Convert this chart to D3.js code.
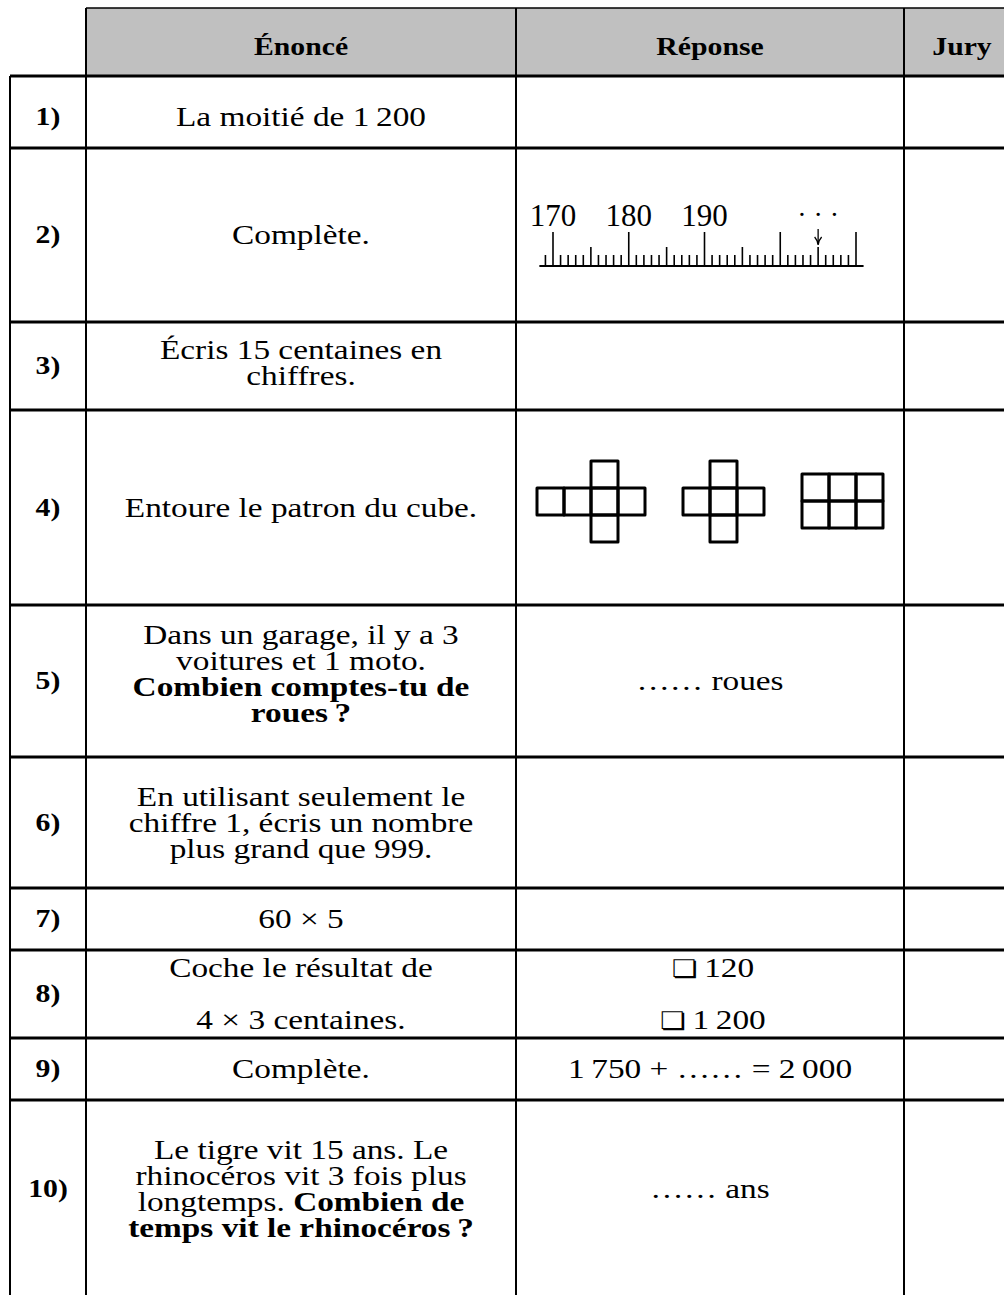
<!DOCTYPE html>
<html>
<head>
<meta charset="utf-8">
<script src="https://cdn.jsdelivr.net/npm/d3@7"></script>
<style>
  body { margin: 0; background: #fff; }
  svg { display: block; }
</style>
</head>
<body>
<div id="chart"></div>
<script>
// table content
var headers = ["Énoncé", "Réponse", "Jury"];
var rowLabels = ["1)", "2)", "3)", "4)", "5)", "6)", "7)", "8)", "9)", "10)"];

// one entry per row, one string per line, **...** = bold
var questions = [
  ["La moitié de 1\u2009200"],
  ["Complète."],
  ["Écris 15 centaines en", "chiffres."],
  ["Entoure le patron du cube."],
  ["Dans un garage, il y a 3", "voitures et 1 moto.", "**Combien comptes-tu de**", "**roues\u2009?**"],
  ["En utilisant seulement le", "chiffre 1, écris un nombre", "plus grand que 999."],
  ["60 \u00d7 5"],
  ["Coche le résultat de", "4 \u00d7 3 centaines."],
  ["Complète."],
  ["Le tigre vit 15 ans. Le", "rhinocéros vit 3 fois plus", "longtemps. **Combien de**", "**temps vit le rhinocéros\u2009?**"]
];

// text answers (null = empty or drawn)
var answers = [
  null, null, null, null,
  ["\u2026\u2026 roues"],
  null, null,
  ["120", "1\u2009200"],
  ["1\u2009750 + \u2026\u2026 = 2\u2009000"],
  ["\u2026\u2026 ans"]
];
var checkRows = [7];

// ruler (question 2)
var rulerDomain = [168.2, 211];
var rulerTicks = d3.range(169, 211);
var rulerLabels = [170, 180, 190];
var rulerMark = 205;

// nets (question 4), cells as [col, row]
var nets = [
  [[0, 1], [1, 1], [2, 1], [3, 1], [2, 0], [2, 2]],
  [[0, 1], [1, 1], [2, 1], [1, 0], [1, 2]],
  [[0, 0], [1, 0], [2, 0], [0, 1], [1, 1], [2, 1]]
];

// ---- layout ----
var W = 1004, H = 1295;
var colX = [10, 86, 516, 904, 1020];
var top0 = 8;
var rowH = [68, 72, 174, 88, 195, 152, 131, 62, 88, 62, 178];
var textShift = [5, 0, -3, 0, -7, 0, 0, 0, 0, 0];
var rowY = [top0];
rowH.forEach(function(h) { rowY.push(rowY[rowY.length - 1] + h); });
var fs = 28, stretch = 1.19, gap = 26;
var serif = "'Liberation Serif', 'Times New Roman', serif";

var svg = d3.select("#chart").append("svg")
  .attr("width", W)
  .attr("height", H);

function cx(c) { return (colX[c] + colX[c + 1]) / 2; }
function cy(r) { return (rowY[r] + rowY[r + 1]) / 2; }

// text with bold markup, stretched horizontally
function addText(x, y, str, size, bold) {
  var g = svg.append("g")
    .attr("transform", "translate(" + x + "," + y + ") scale(" + stretch + ",1)");
  var t = g.append("text")
    .attr("text-anchor", "middle")
    .attr("font-family", serif)
    .attr("font-size", size)
    .attr("fill", "#000");
  str.split("**").forEach(function(s, i) {
    if (s === "") return;
    t.append("tspan")
      .attr("font-weight", (bold || i % 2 === 1) ? "bold" : "normal")
      .text(s);
  });
  return t;
}

function addLines(x, r, lines, lg, shift) {
  var c = cy(r) + (shift || 0);
  lines.forEach(function(s, i) {
    var y = c - (lines.length - 1) / 2 * lg + i * lg + 0.33 * fs;
    addText(x, y, s, fs);
  });
}

// header
svg.append("rect")
  .attr("x", colX[1]).attr("y", rowY[0])
  .attr("width", W - colX[1]).attr("height", rowH[0])
  .attr("fill", "#c0c0c0");
headers.forEach(function(h, i) {
  addText(cx(i + 1), cy(0) + 5 + 0.33 * 25, h, 25, true);
});

// rows
rowLabels.forEach(function(lab, i) {
  var r = i + 1;
  var base = r === 1 ? 5 : 0;
  addText(cx(0), cy(r) + base + 0.33 * 25, lab, 25, true);
  addLines(cx(1), r, questions[i], i === 7 ? 52 : gap, textShift[i]);
  if (answers[i]) {
    if (checkRows.indexOf(i) >= 0) {
      answers[i].forEach(function(s, k) {
        var y = cy(r) - 26 + k * 52 + 0.33 * fs;
        var t = addText(cx(2) + 3, y, "", fs);
        t.append("tspan")
          .attr("font-family", "'DejaVu Sans'")
          .attr("font-size", 24)
          .text("\u274f");
        t.append("tspan").text("\u2009" + s);
      });
    } else {
      addLines(cx(2), r, answers[i], gap, base);
    }
  }
});

// ruler
var rx = d3.scaleLinear().domain([170, 210]).range([553, 856]);
var rBase = 266;
var rg = svg.append("g");
rg.append("line")
  .attr("x1", rx(rulerDomain[0])).attr("x2", rx(rulerDomain[1]))
  .attr("y1", rBase).attr("y2", rBase)
  .attr("stroke", "#000").attr("stroke-width", 2);
rg.selectAll(".tk").data(rulerTicks).enter().append("line")
  .attr("x1", function(d) { return rx(d); })
  .attr("x2", function(d) { return rx(d); })
  .attr("y1", rBase)
  .attr("y2", function(d) { return rBase - (d % 10 === 0 ? 34 : d % 5 === 0 ? 19 : 11); })
  .attr("stroke", "#000").attr("stroke-width", 1.6);
rg.selectAll(".lb").data(rulerLabels).enter().append("text")
  .attr("x", function(d) { return rx(d); })
  .attr("y", 226)
  .attr("text-anchor", "middle")
  .attr("font-family", serif)
  .attr("font-size", 31)
  .text(function(d) { return d; });
rg.append("text")
  .attr("x", rx(rulerMark)).attr("y", 224)
  .attr("text-anchor", "middle")
  .attr("font-family", serif)
  .attr("font-size", 28)
  .text("\u00b7 \u00b7 \u00b7");
rg.append("line")
  .attr("x1", rx(rulerMark)).attr("x2", rx(rulerMark))
  .attr("y1", 229).attr("y2", 244)
  .attr("stroke", "#000").attr("stroke-width", 1.3);
rg.append("path")
  .attr("d", "M" + (rx(rulerMark) - 3.5) + ",237 Q" + rx(rulerMark) + ",241 " + rx(rulerMark) + ",245 Q" + rx(rulerMark) + ",241 " + (rx(rulerMark) + 3.5) + ",237")
  .attr("fill", "none").attr("stroke", "#000").attr("stroke-width", 1.3);

// nets
var cell = d3.scaleLinear().domain([0, 1]).range([0, 27]);
var netOrigin = [[537, 461], [683, 461], [802, 474]];
nets.forEach(function(net, n) {
  svg.append("g")
    .attr("transform", "translate(" + netOrigin[n][0] + "," + netOrigin[n][1] + ")")
    .selectAll("rect").data(net).enter().append("rect")
    .attr("x", function(d) { return cell(d[0]); })
    .attr("y", function(d) { return cell(d[1]); })
    .attr("width", cell(1)).attr("height", cell(1))
    .attr("fill", "none").attr("stroke", "#000")
    .attr("stroke-width", 3).attr("stroke-linejoin", "round");
});

// grid lines
var grid = svg.append("g").attr("stroke", "#000");
grid.append("line")
  .attr("x1", colX[1]).attr("x2", W).attr("y1", rowY[0]).attr("y2", rowY[0])
  .attr("stroke-width", 1.5);
grid.selectAll(".h").data(rowY.slice(1, rowY.length - 1)).enter().append("line")
  .attr("x1", colX[0]).attr("x2", W)
  .attr("y1", function(d) { return d; }).attr("y2", function(d) { return d; })
  .attr("stroke-width", 3);
grid.selectAll(".v").data(colX.slice(0, 4)).enter().append("line")
  .attr("x1", function(d) { return d; }).attr("x2", function(d) { return d; })
  .attr("y1", function(d, i) { return i === 0 ? rowY[1] : rowY[0]; })
  .attr("y2", H)
  .attr("stroke-width", 2);
</script>
</body>
</html>
